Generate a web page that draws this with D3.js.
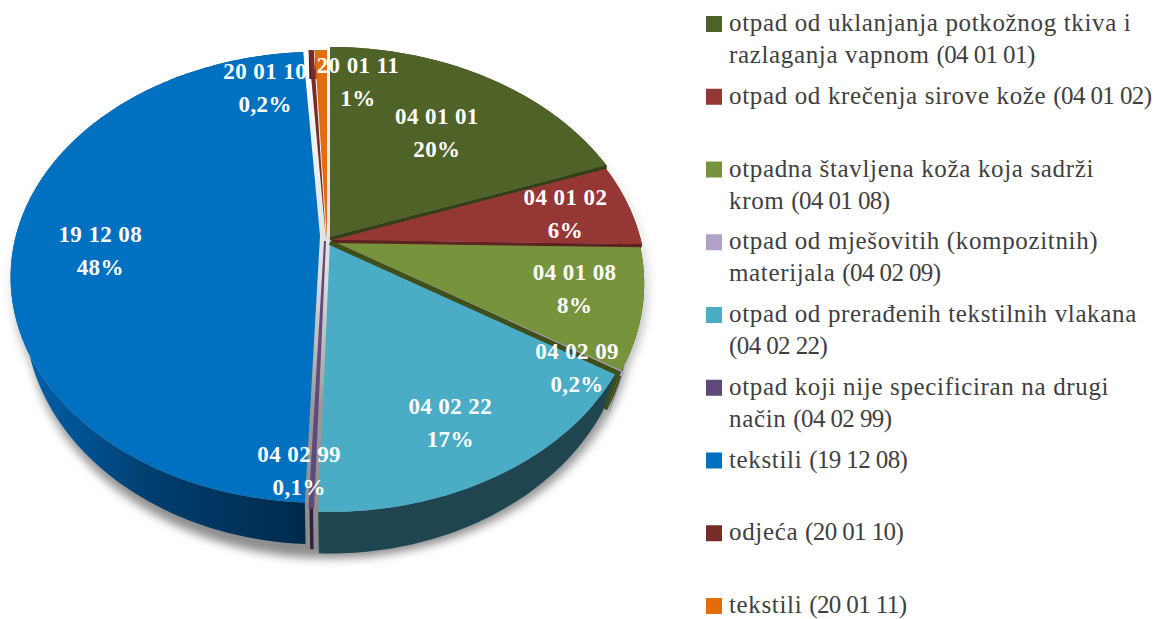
<!DOCTYPE html>
<html>
<head>
<meta charset="utf-8">
<script src="https://cdn.jsdelivr.net/npm/d3@7"></script>
<style>
  html, body { margin: 0; padding: 0; background: #fff; }
  svg { display: block; }
  text { font-family: "Liberation Serif", serif; }
</style>
</head>
<body>
<div id="chart"></div>
<script>
var codes = ["04 01 01", "04 01 02", "04 01 08", "04 02 09", "04 02 22", "04 02 99", "19 12 08", "20 01 10", "20 01 11"];
var values = [19.6, 5.8, 8.6, 0.2, 16.5, 0.15, 48.5, 0.3, 0.75];
var percentLabels = ["20%", "6%", "8%", "0,2%", "17%", "0,1%", "48%", "0,2%", "1%"];
var legendLines = [
  ["otpad od uklanjanja potkožnog tkiva i", "razlaganja vapnom (04 01 01)"],
  ["otpad od krečenja sirove kože (04 01 02)"],
  ["otpadna štavljena koža koja sadrži", "krom (04 01 08)"],
  ["otpad od mješovitih (kompozitnih)", "materijala (04 02 09)"],
  ["otpad od prerađenih tekstilnih vlakana", "(04 02 22)"],
  ["otpad koji nije specificiran na drugi", "način (04 02 99)"],
  ["tekstili (19 12 08)"],
  ["odjeća (20 01 10)"],
  ["tekstili (20 01 11)"]
];
var topColors = ["#4f6228", "#953735", "#77933c", "#b3a2c7", "#4bacc6", "#604a7b", "#0070c0", "#772c2a", "#e46c0a"];
var sideColors = ["#323f19", "#5f2322", "#3f4f1c", "#6f6280", "#1f4650", "#2e2040", "url(#blueSide)", "#3e1615", "#8a4206"];

// how far each slice sits from the common apex, and how it is squeezed (px / factor)
var sliceMove = [[0, 0], [2, 3], [0, 4], [0, 4], [0, 4], [-5, 4], [-10, -1], [-4, 3], [-3, 3]];
var sliceSqueeze = [[1, 1], [0.99, 1], [0.99, 1], [1, 1], [0.98, 0.985], [1, 0.97], [0.975, 0.97], [1, 1], [1, 1]];
var labelNudge = [[5, 0], [48, -1], [53, 11], [73, 52], [20, 49], [-23, 77], [-36, 12], [-55, -24], [32, -30]];

var width = 1155, height = 619;
var apexX = 330, apexY = 237;
var tilt = 0.1828, ryScale = 181.4, rxScale = 312, depth = 34, baseShrink = 0.955;

var svg = d3.select("#chart").append("svg")
    .attr("width", width)
    .attr("height", height);

var defs = svg.append("defs");
var blueGrad = defs.append("linearGradient")
    .attr("id", "blueSide")
    .attr("gradientUnits", "userSpaceOnUse")
    .attr("x1", 20).attr("x2", 305).attr("y1", 0).attr("y2", 0);
blueGrad.append("stop").attr("offset", "0%").attr("stop-color", "#0062b0");
blueGrad.append("stop").attr("offset", "45%").attr("stop-color", "#003f70");
blueGrad.append("stop").attr("offset", "100%").attr("stop-color", "#002a4c");
var shadeGrad = defs.append("linearGradient")
    .attr("id", "shade")
    .attr("gradientUnits", "userSpaceOnUse")
    .attr("x1", 0).attr("x2", 0).attr("y1", 47).attr("y2", 560);
shadeGrad.append("stop").attr("offset", "0%").attr("stop-color", "#fff");
shadeGrad.append("stop").attr("offset", "45%").attr("stop-color", "#ddd");
shadeGrad.append("stop").attr("offset", "70%").attr("stop-color", "#9a9a9a");
shadeGrad.append("stop").attr("offset", "100%").attr("stop-color", "#8a8a8a");
defs.append("filter").attr("id", "soft")
    .attr("x", "-10%").attr("y", "-10%").attr("width", "120%").attr("height", "120%")
  .append("feGaussianBlur").attr("stdDeviation", 5);

var arcs = d3.pie().sort(null).value(function(d) { return d; })(values);

// disk coordinates -> screen, simple perspective so the apex sits above the ellipse centre
function project(r, angle, i, down) {
  var X = r * Math.sin(angle), Y = r * Math.cos(angle), den = 1 + tilt * Y;
  var px = sliceSqueeze[i][0] * rxScale * X / den;
  var py = sliceSqueeze[i][1] * ((apexY - ryScale * Y) / den - apexY);
  return [
    apexX + sliceMove[i][0] + px * (down ? baseShrink : 1),
    apexY + sliceMove[i][1] + py + (down ? depth / den : 0)
  ];
}

function rim(d, i, down) {
  var n = Math.max(2, Math.ceil((d.endAngle - d.startAngle) * 60));
  return d3.range(n + 1).map(function(k) {
    return project(1, d.startAngle + (d.endAngle - d.startAngle) * k / n, i, down);
  });
}

var line = d3.line();

// soft shadow under the whole pie, top rim and base rim
var shadow = svg.append("g").attr("filter", "url(#soft)");
[false, true].forEach(function(down) {
  var ring = d3.range(0, 361, 3).map(function(a) {
    var p = project(1.005, a * Math.PI / 180, 0, down);
    return [p[0], p[1] + 3];
  });
  shadow.append("path")
      .attr("d", line(ring) + "Z")
      .attr("fill", "url(#shade)");
});

// radial cut walls on the right-hand slices, then outer walls
svg.append("g").selectAll("path")
    .data(arcs.slice(0, 3))
    .enter().append("path")
      .attr("d", function(d, i) {
        var top = project(0, 0, i, false), bot = project(0, 0, i, true);
        return line([top, project(1, d.endAngle, i, false), project(1, d.endAngle, i, true), bot]) + "Z";
      })
      .attr("fill", function(d, i) { return sideColors[i]; });

svg.append("g").selectAll("path")
    .data(arcs)
    .enter().append("path")
      .attr("d", function(d, i) {
        return line(rim(d, i, false).concat(rim(d, i, true).reverse())) + "Z";
      })
      .attr("fill", function(d, i) { return sideColors[i]; });

// top faces
svg.append("g").selectAll("path")
    .data(arcs)
    .enter().append("path")
      .attr("d", function(d, i) {
        return line([project(0, 0, i, false)].concat(rim(d, i, false))) + "Z";
      })
      .attr("fill", function(d, i) { return topColors[i]; })
      .attr("stroke", function(d, i) { return d.value < 0.25 ? topColors[i] : "none"; })
      .attr("stroke-width", 2);

// dark ribbons along the lower cut of the right-hand slices
svg.append("g").selectAll("path")
    .data(arcs.slice(0, 3))
    .enter().append("path")
      .attr("d", function(d, i) {
        var a = project(0, 0, i, false), b = project(1, d.endAngle, i, false);
        return line([[a[0], a[1] + 1.5], [b[0], b[1] + 1.5]]);
      })
      .attr("stroke", function(d, i) { return sideColors[i]; })
      .attr("stroke-width", function(d, i) { return i == 2 ? 5 : 3; })
      .attr("fill", "none");

// value labels
var labels = svg.append("g").selectAll("text")
    .data(arcs)
    .enter().append("text")
      .attr("text-anchor", "middle")
      .attr("fill", "#fff")
      .attr("font-weight", "bold")
      .attr("font-size", 23)
      .attr("letter-spacing", 0.4)
      .attr("transform", function(d, i) {
        var p = project(0.62, (d.startAngle + d.endAngle) / 2, 0, false);
        return "translate(" + (p[0] + labelNudge[i][0]) + "," + (p[1] + labelNudge[i][1]) + ")";
      });
labels.append("tspan").attr("x", 0).attr("y", -9).text(function(d, i) { return codes[i]; });
labels.append("tspan").attr("x", 0).attr("y", 24).text(function(d, i) { return percentLabels[i]; });

// legend
var legendY = d3.scaleLinear().domain([0, codes.length - 1]).range([24, 606]);
var legend = svg.append("g").selectAll("g")
    .data(legendLines)
    .enter().append("g")
      .attr("transform", function(d, i) { return "translate(706," + legendY(i) + ")"; });
legend.append("rect")
    .attr("x", 0).attr("y", -8)
    .attr("width", 16).attr("height", 16)
    .attr("fill", function(d, i) { return topColors[i]; });
legend.each(function(lines) {
  var rows = d3.select(this).selectAll("text")
      .data(lines)
      .enter().append("text")
        .attr("x", 23)
        .attr("y", function(d, k) { return 7 + k * 32; })
        .attr("fill", "#404040")
        .attr("font-size", 25)
        .attr("letter-spacing", 0.65);
  // the digits in the reference face are narrower, so the code part is set tighter
  rows.append("tspan").text(function(d) { return d.split("(0")[0].split("(1")[0].split("(2")[0]; });
  rows.append("tspan")
      .attr("letter-spacing", -0.6)
      .text(function(d) { var m = d.match(/\(\d.*$/); return m ? m[0] : ""; });
});
</script>
</body>
</html>
